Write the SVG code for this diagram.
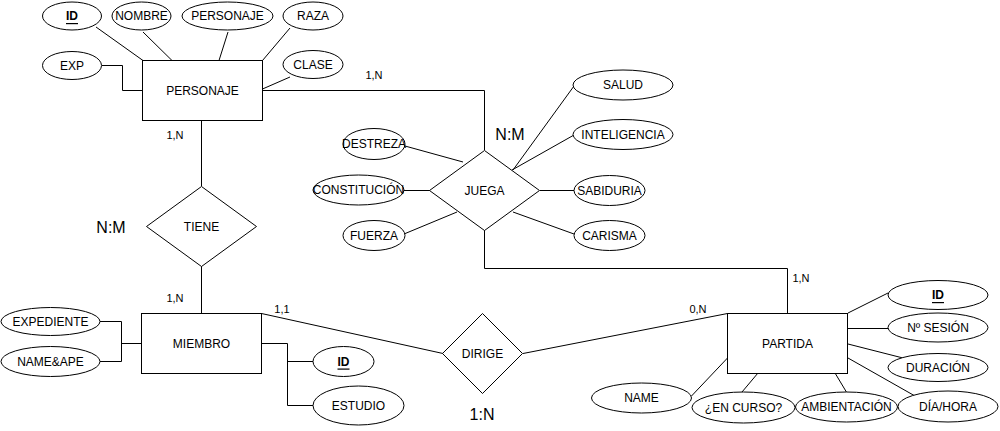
<svg xmlns="http://www.w3.org/2000/svg" width="1000" height="431" viewBox="0 0 1000 431">
  <style>
    .shape { fill: #ffffff; stroke: #000000; stroke-width: 1; }
    .edge { fill: none; stroke: #000000; stroke-width: 1; }
    text { font-family: "Liberation Sans", Arial, sans-serif; fill: #000000; text-anchor: middle; dominant-baseline: central; }
    .lbl { font-size: 12px; }
    .card { font-size: 11px; }
    .ratio { font-size: 16px; }
    .key { text-decoration: underline; font-weight: bold; }
  </style>
  <rect width="1000" height="431" fill="#ffffff"/>

  <!-- connectors -->
  <g id="connectors">
    <!-- PERSONAJE attributes -->
    <line class="edge" x1="96" y1="27" x2="143" y2="60.5"/>
    <line class="edge" x1="143" y1="32" x2="172" y2="60.5"/>
    <line class="edge" x1="228" y1="32" x2="219" y2="60.5"/>
    <line class="edge" x1="290" y1="28" x2="262.5" y2="60.5"/>
    <polyline class="edge" points="102,65.5 122.5,65.5 122.5,90.5 142.5,90.5"/>
    <line class="edge" x1="290" y1="77" x2="262.5" y2="89"/>
    <!-- PERSONAJE - JUEGA - PARTIDA -->
    <polyline class="edge" points="262.5,90.5 484.5,90.5 484.5,150"/>
    <polyline class="edge" points="484.5,230 484.5,268.5 787.5,268.5 787.5,313"/>
    <!-- JUEGA attributes -->
    <line class="edge" x1="405" y1="146" x2="463" y2="162"/>
    <line class="edge" x1="404" y1="190.5" x2="430" y2="190.5"/>
    <line class="edge" x1="404" y1="234" x2="457" y2="212"/>
    <line class="edge" x1="574" y1="86" x2="513" y2="170"/>
    <line class="edge" x1="574" y1="135" x2="512" y2="170"/>
    <line class="edge" x1="540" y1="190.5" x2="574" y2="190.5"/>
    <line class="edge" x1="513" y1="212" x2="574" y2="234"/>
    <!-- PERSONAJE - TIENE - MIEMBRO -->
    <line class="edge" x1="201.5" y1="120.5" x2="201.5" y2="186"/>
    <line class="edge" x1="201.5" y1="266" x2="201.5" y2="313"/>
    <!-- MIEMBRO attributes -->
    <polyline class="edge" points="100,321.5 121.5,321.5 121.5,361.5 100,361.5"/>
    <line class="edge" x1="121.5" y1="343.5" x2="141.5" y2="343.5"/>
    <polyline class="edge" points="261.5,343.5 287.5,343.5 287.5,405.5 313,405.5"/>
    <line class="edge" x1="287.5" y1="361.5" x2="313" y2="361.5"/>
    <!-- MIEMBRO - DIRIGE - PARTIDA -->
    <line class="edge" x1="261.5" y1="313.5" x2="443" y2="353.5"/>
    <line class="edge" x1="523" y1="353.5" x2="727.5" y2="313.5"/>
    <!-- PARTIDA attributes -->
    <line class="edge" x1="848" y1="313" x2="888" y2="293"/>
    <line class="edge" x1="848" y1="328.5" x2="888" y2="328.5"/>
    <line class="edge" x1="848" y1="344" x2="903" y2="358"/>
    <line class="edge" x1="848" y1="358" x2="915" y2="396"/>
    <line class="edge" x1="835" y1="373" x2="847" y2="393"/>
    <line class="edge" x1="758" y1="373" x2="742" y2="392"/>
    <line class="edge" x1="727.5" y1="358" x2="691.5" y2="396"/>

    <!-- cardinality labels -->
    <text class="card" x="374" y="75">1,N</text>
    <text class="card" x="175" y="135">1,N</text>
    <text class="card" x="175" y="298">1,N</text>
    <text class="card" x="282" y="309">1,1</text>
    <text class="card" x="698" y="309">0,N</text>
    <text class="card" x="801" y="278">1,N</text>
    <text class="ratio" x="510" y="134">N:M</text>
    <text class="ratio" x="111" y="227">N:M</text>
    <text class="ratio" x="482" y="414">1:N</text>
  </g>

  <!-- entities -->
  <g id="personaje">
    <rect class="shape" x="142.5" y="60.5" width="120" height="60"/>
    <text class="lbl" x="202.5" y="90.5">PERSONAJE</text>
  </g>
  <g id="miembro">
    <rect class="shape" x="141.5" y="313.5" width="120" height="60"/>
    <text class="lbl" x="201.5" y="343.5">MIEMBRO</text>
  </g>
  <g id="partida">
    <rect class="shape" x="727.5" y="313.5" width="120" height="60"/>
    <text class="lbl" x="787.5" y="343.5">PARTIDA</text>
  </g>

  <!-- relationships -->
  <g id="juega">
    <polygon class="shape" points="484.5,150.5 539.5,190.5 484.5,230.5 429.5,190.5"/>
    <text class="lbl" x="484.5" y="190.5">JUEGA</text>
  </g>
  <g id="tiene">
    <polygon class="shape" points="201.5,186.5 256.5,226.5 201.5,266.5 146.5,226.5"/>
    <text class="lbl" x="201.5" y="226.5">TIENE</text>
  </g>
  <g id="dirige">
    <polygon class="shape" points="482.5,313.5 522.5,353.5 482.5,393.5 442.5,353.5"/>
    <text class="lbl" x="482.5" y="353.5">DIRIGE</text>
  </g>

  <!-- PERSONAJE attributes -->
  <g id="attr-personaje-id">
    <ellipse class="shape" cx="72" cy="16" rx="29.5" ry="14"/>
    <text class="lbl key" x="72" y="16">ID</text>
  </g>
  <g id="attr-nombre">
    <ellipse class="shape" cx="141.5" cy="16" rx="29.5" ry="14"/>
    <text class="lbl" x="141.5" y="16">NOMBRE</text>
  </g>
  <g id="attr-personaje">
    <ellipse class="shape" cx="227.5" cy="16" rx="45.5" ry="14"/>
    <text class="lbl" x="227.5" y="16">PERSONAJE</text>
  </g>
  <g id="attr-raza">
    <ellipse class="shape" cx="313" cy="16" rx="30" ry="14"/>
    <text class="lbl" x="313" y="16">RAZA</text>
  </g>
  <g id="attr-exp">
    <ellipse class="shape" cx="72" cy="65.5" rx="29.5" ry="14"/>
    <text class="lbl" x="72" y="65.5">EXP</text>
  </g>
  <g id="attr-clase">
    <ellipse class="shape" cx="313" cy="64.5" rx="30" ry="14"/>
    <text class="lbl" x="313" y="64.5">CLASE</text>
  </g>

  <!-- JUEGA attributes -->
  <g id="attr-salud">
    <ellipse class="shape" cx="623" cy="85" rx="50" ry="15"/>
    <text class="lbl" x="623" y="85">SALUD</text>
  </g>
  <g id="attr-inteligencia">
    <ellipse class="shape" cx="623" cy="134.5" rx="50" ry="15"/>
    <text class="lbl" x="623" y="134.5">INTELIGENCIA</text>
  </g>
  <g id="attr-sabiduria">
    <ellipse class="shape" cx="609.5" cy="190.5" rx="35.5" ry="15"/>
    <text class="lbl" x="609.5" y="190.5">SABIDURIA</text>
  </g>
  <g id="attr-carisma">
    <ellipse class="shape" cx="609.5" cy="235.5" rx="35.5" ry="15"/>
    <text class="lbl" x="609.5" y="235.5">CARISMA</text>
  </g>
  <g id="attr-destreza">
    <ellipse class="shape" cx="374" cy="144" rx="31" ry="15.5"/>
    <text class="lbl" x="374" y="144">DESTREZA</text>
  </g>
  <g id="attr-constitucion">
    <ellipse class="shape" cx="358.5" cy="190" rx="45.5" ry="15"/>
    <text class="lbl" x="358.5" y="190">CONSTITUCIÓN</text>
  </g>
  <g id="attr-fuerza">
    <ellipse class="shape" cx="374" cy="235.5" rx="31" ry="15"/>
    <text class="lbl" x="374" y="235.5">FUERZA</text>
  </g>

  <!-- MIEMBRO attributes -->
  <g id="attr-expediente">
    <ellipse class="shape" cx="50.5" cy="321.5" rx="49.5" ry="14"/>
    <text class="lbl" x="50.5" y="321.5">EXPEDIENTE</text>
  </g>
  <g id="attr-nameape">
    <ellipse class="shape" cx="50.5" cy="361.5" rx="49.5" ry="15"/>
    <text class="lbl" x="50.5" y="361.5">NAME&amp;APE</text>
  </g>
  <g id="attr-miembro-id">
    <ellipse class="shape" cx="343.5" cy="361.5" rx="30.5" ry="15"/>
    <text class="lbl key" x="343.5" y="361.5">ID</text>
  </g>
  <g id="attr-estudio">
    <ellipse class="shape" cx="358.5" cy="405.5" rx="45.5" ry="19.5"/>
    <text class="lbl" x="358.5" y="405.5">ESTUDIO</text>
  </g>

  <!-- PARTIDA attributes -->
  <g id="attr-partida-id">
    <ellipse class="shape" cx="938" cy="295" rx="50" ry="14.5"/>
    <text class="lbl key" x="938" y="295">ID</text>
  </g>
  <g id="attr-sesion">
    <ellipse class="shape" cx="938" cy="327.5" rx="50" ry="14.5"/>
    <text class="lbl" x="938" y="327.5">Nº SESIÓN</text>
  </g>
  <g id="attr-duracion">
    <ellipse class="shape" cx="938" cy="367.5" rx="50" ry="14"/>
    <text class="lbl" x="938" y="367.5">DURACIÓN</text>
  </g>
  <g id="attr-diahora">
    <ellipse class="shape" cx="948" cy="406.5" rx="50" ry="15.5"/>
    <text class="lbl" x="948" y="406.5">DÍA/HORA</text>
  </g>
  <g id="attr-ambientacion">
    <ellipse class="shape" cx="846.5" cy="407" rx="51" ry="15"/>
    <text class="lbl" x="846.5" y="407">AMBIENTACIÓN</text>
  </g>
  <g id="attr-encurso">
    <ellipse class="shape" cx="743.5" cy="407.5" rx="51.5" ry="15.5"/>
    <text class="lbl" x="743.5" y="407.5">¿EN CURSO?</text>
  </g>
  <g id="attr-name">
    <ellipse class="shape" cx="641.5" cy="398" rx="50" ry="15"/>
    <text class="lbl" x="641.5" y="398">NAME</text>
  </g>
</svg>
